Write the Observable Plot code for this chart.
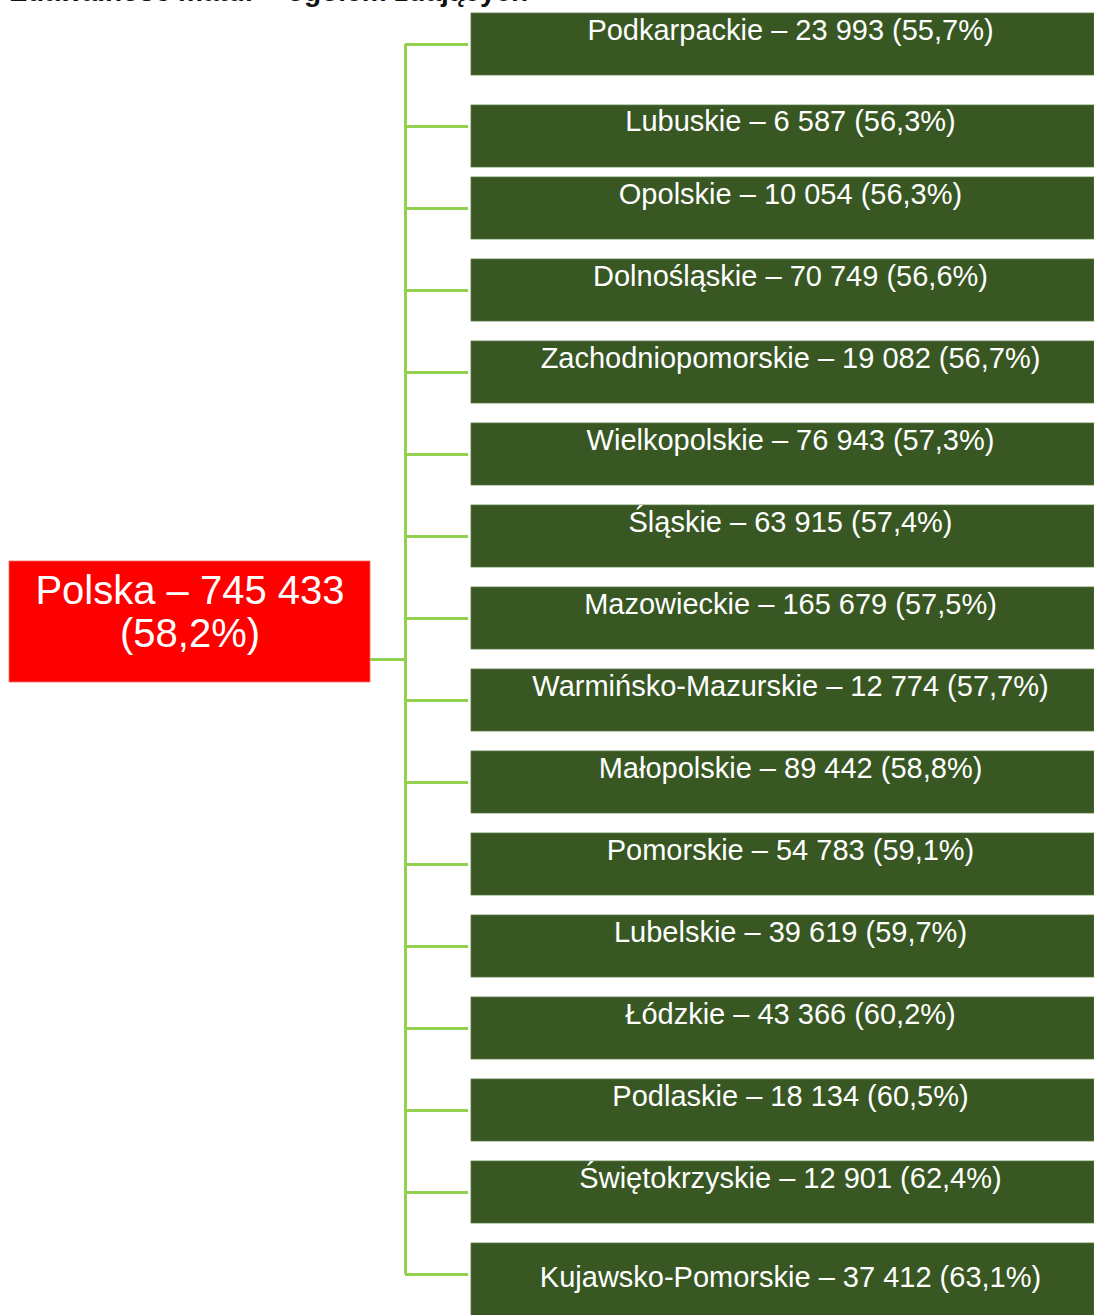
<!DOCTYPE html>
<html>
<head>
<meta charset="utf-8">
<script src="https://cdn.jsdelivr.net/npm/d3@7"></script>
<script src="https://cdn.jsdelivr.net/npm/@observablehq/plot@0.6"></script>
<style>
  html, body { margin: 0; padding: 0; background: #fff; }
  #wrap { position: relative; width: 1094px; height: 1315px; overflow: hidden; }
  #title { position: absolute; left: 0; top: 0; }
  #chart { position: absolute; left: 0; top: 0; }
</style>
</head>
<body>
<div id="wrap">
  <div id="chart"></div>
  <svg id="title" width="1094" height="20">
    <text x="10" y="1" font-family="Liberation Sans, Arial, sans-serif" font-weight="bold" font-size="28" fill="#111">Zdawalność matur – ogółem zdających</text>
  </svg>
</div>
<script>
// ---- data ----
const rootName = "Polska";
const rootCount = 745433;
const rootShare = 58.2;

const regions = [
  "Podkarpackie", "Lubuskie", "Opolskie", "Dolnośląskie", "Zachodniopomorskie",
  "Wielkopolskie", "Śląskie", "Mazowieckie", "Warmińsko-Mazurskie", "Małopolskie",
  "Pomorskie", "Lubelskie", "Łódzkie", "Podlaskie", "Świętokrzyskie", "Kujawsko-Pomorskie"
];
const counts = [23993, 6587, 10054, 70749, 19082, 76943, 63915, 165679, 12774, 89442,
  54783, 39619, 43366, 18134, 12901, 37412];
const shares = [55.7, 56.3, 56.3, 56.6, 56.7, 57.3, 57.4, 57.5, 57.7, 58.8,
  59.1, 59.7, 60.2, 60.5, 62.4, 63.1];

// ---- formatting ----
const fmtInt = n => String(n).replace(/\B(?=(\d{3})+(?!\d))/g, " ");
const fmtPct = p => p.toFixed(1).replace(".", ",") + "%";

const children = regions.map((name, i) => ({
  i, name, label: `${name} – ${fmtInt(counts[i])} (${fmtPct(shares[i])})`
}));
const last = regions.length - 1;
const rootY = last / 2;
const root = [{y: rootY, label: `${rootName} – ${fmtInt(rootCount)}\n(${fmtPct(rootShare)})`}];

// layout (pixel units along x, row units along y)
const px = 1 / 82;              // one pixel in row units
const W = 1094;
const rootX1 = 9, rootX2 = 370, trunkX = 405, branchX2 = 468, boxX1 = 471, boxX2 = W, labelX = 790;
const green = "#92D050", boxFill = "#385723", red = "#FF0000";
// small irregularities of the original layout (in pixels)
const boxTop = i => (i === 1 ? -21 : -31);
const boxBottom = i => (i === 1 ? 41 : i === last ? 45 : 31);
const labelDy = i => (i === 1 ? -5 : i === last ? 3 : -14);

const chart = Plot.plot({
  width: W,
  height: 1315,
  margin: 0,
  x: {domain: [0, W], range: [0, W], axis: null},
  y: {domain: [0, last], range: [44, 1274], axis: null},
  style: {fontFamily: "Liberation Sans, Arial, sans-serif", background: "transparent", overflow: "visible"},
  marks: [
    // trunk and branches
    Plot.ruleX([trunkX], {y1: 0, y2: last, stroke: green, strokeWidth: 3}),
    Plot.ruleY(root, {y: "y", x1: rootX2, x2: trunkX, stroke: green, strokeWidth: 3}),
    Plot.ruleY(children, {y: "i", x1: trunkX, x2: branchX2, stroke: green, strokeWidth: 3}),
    // child boxes
    Plot.rect(children, {
      x1: boxX1, x2: boxX2,
      y1: d => d.i + boxTop(d.i) * px, y2: d => d.i + boxBottom(d.i) * px,
      fill: boxFill, stroke: "#5b7a45", strokeWidth: 0.8
    }),
    Plot.text(children, {
      x: labelX, y: d => d.i + labelDy(d.i) * px, text: "label",
      fill: "white", fontSize: 29, textAnchor: "middle", lineAnchor: "middle"
    }),
    // root box
    Plot.rect(root, {
      x1: rootX1, x2: rootX2,
      y1: d => d.y - 98 * px, y2: d => d.y + 23 * px,
      fill: red, stroke: "#ff6b6b", strokeWidth: 0.8
    }),
    Plot.text(root, {
      x: (rootX1 + rootX2) / 2, y: "y", dy: -48, text: "label",
      fill: "white", fontSize: 40, lineHeight: 1.08, textAnchor: "middle", lineAnchor: "middle"
    })
  ]
});
document.getElementById("chart").appendChild(chart);
</script>
</body>
</html>
